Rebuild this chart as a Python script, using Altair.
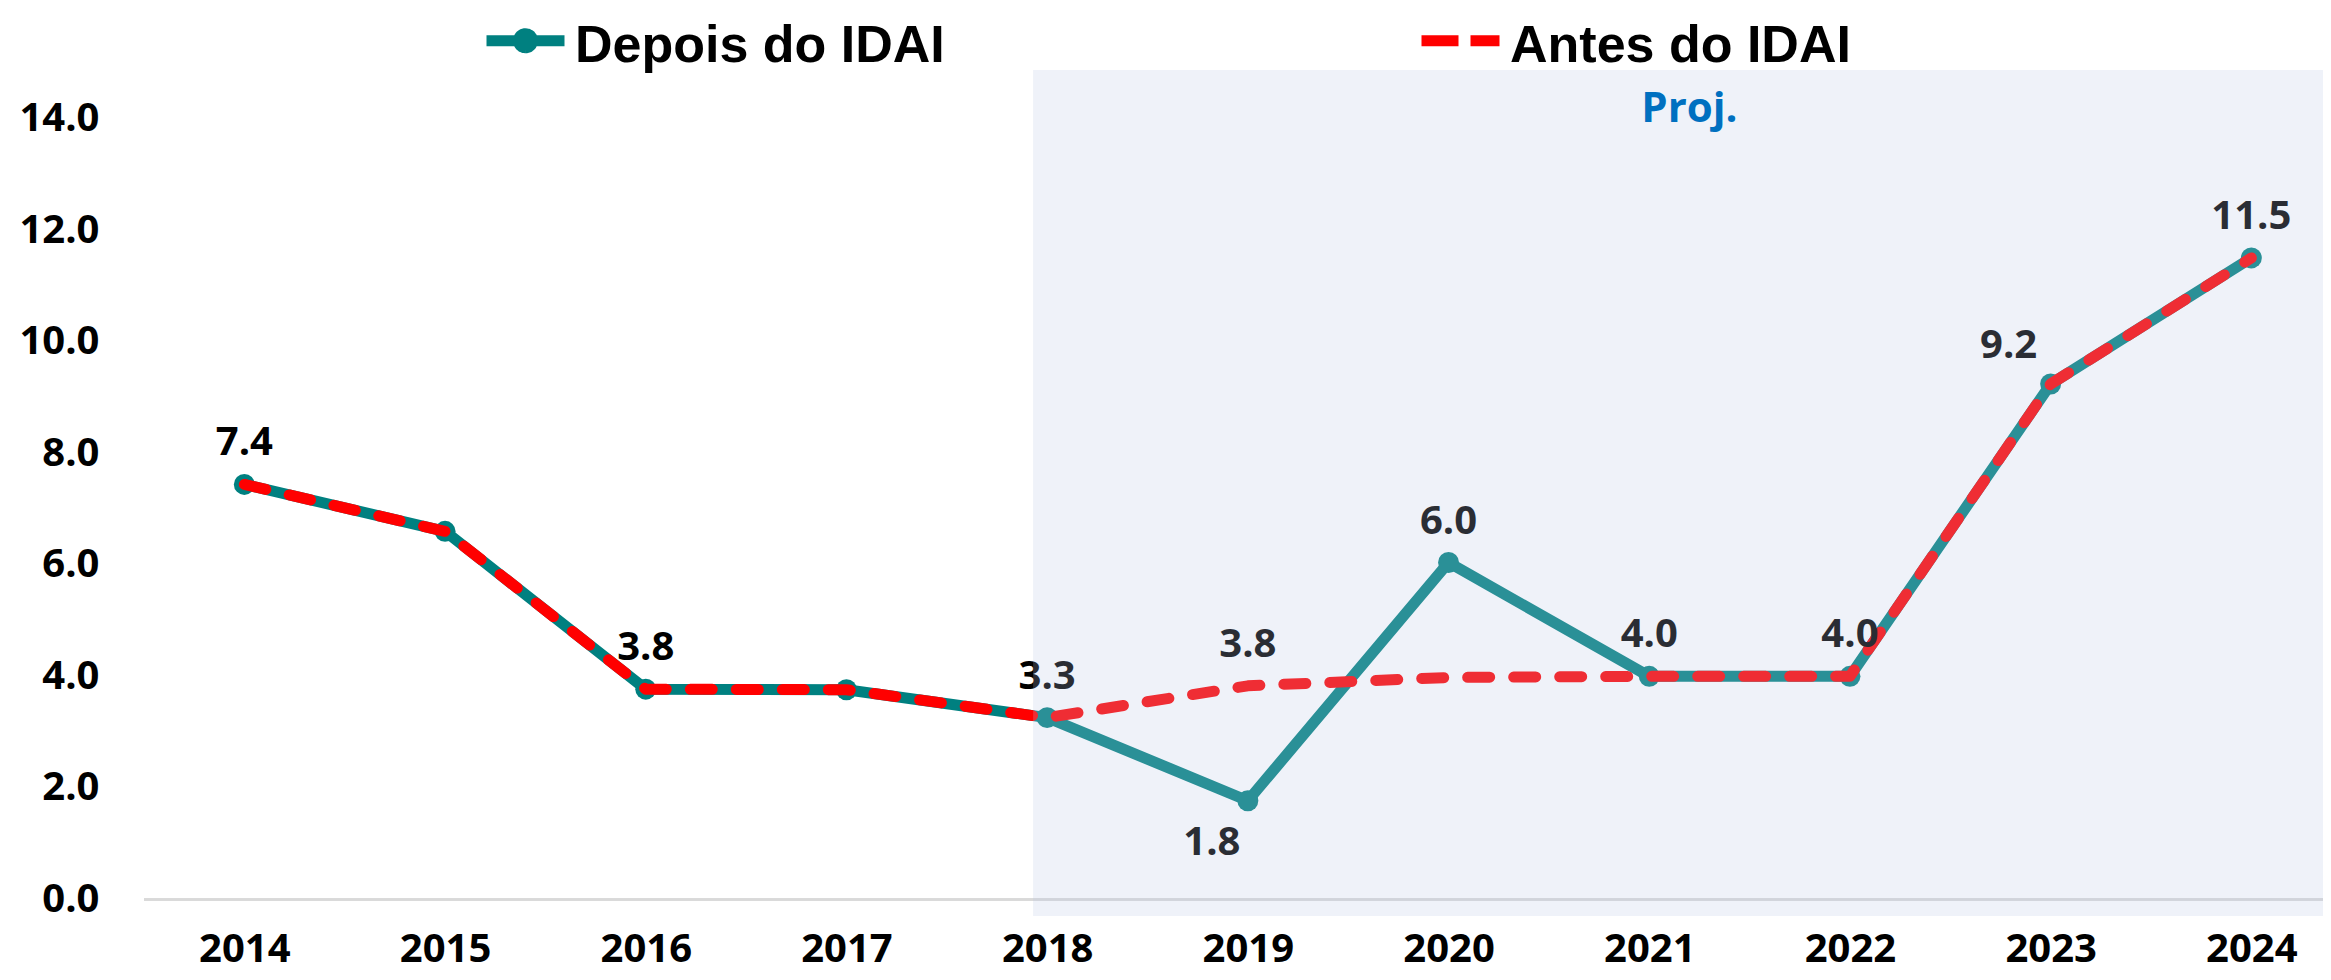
import altair as alt
import pandas as pd

# ---- data ----
years = [2014, 2015, 2016, 2017, 2018, 2019, 2020, 2021, 2022, 2023, 2024]
depois = [7.44, 6.6, 3.77, 3.76, 3.26, 1.77, 6.04, 4.0, 4.0, 9.24, 11.5]
antes = [7.44, 6.6, 3.77, 3.76, 3.26, 3.83, 3.98, 4.0, 4.0, 9.24, 11.5]
series_names = ["Depois do IDAI", "Antes do IDAI"]
y_ticks = [0, 2, 4, 6, 8, 10, 12, 14]
label_years_depois = [2014, 2016, 2018, 2019, 2020, 2021, 2022, 2023, 2024]
label_years_antes = [2019]
proj_start = 2017.93
proj_text = ["Proj."]
proj_x = [2021.2]
proj_y = [13.94]

FONT = "Open Sans"
LEG_FONT = "Liberation Sans"
TEAL = "#008080"
RED = "#FF0000"
SHADE = "rgb(185,198,229)"

df = pd.DataFrame({
    "year": years * 2,
    "value": depois + antes,
    "series": [series_names[0]] * len(years) + [series_names[1]] * len(years),
})
lab = df[((df.series == series_names[0]) & (df.year.isin(label_years_depois))) |
         ((df.series == series_names[1]) & (df.year.isin(label_years_antes)))].copy()
lab["txt"] = lab["value"].map(lambda v: f"{v:.1f}")
proj_df = pd.DataFrame({"t": proj_text, "year": proj_x, "value": proj_y})
leg_df = pd.DataFrame({"series": series_names})

xs = alt.Scale(domain=[2013.5, 2024.357], nice=False, zero=False)
ys = alt.Scale(domain=[-0.296, 14.869], nice=False, zero=False)
x_axis = alt.Axis(values=years, format="d", title=None, grid=False, domain=False,
                  ticks=False, tickSize=0, labelPadding=13, labelFontSize=40,
                  labelFont=FONT, labelFontWeight="bold", labelColor="#000000",
                  labelFlush=False, labelOverlap=False)
y_axis = alt.Axis(values=y_ticks, format=".1f", title=None, grid=False, domain=False,
                  ticks=False, tickSize=0, labelPadding=45, labelFontSize=40,
                  labelFont=FONT, labelFontWeight="bold", labelColor="#000000")

X = alt.X("year:Q", scale=xs, axis=x_axis)
Y = alt.Y("value:Q", scale=ys, axis=y_axis)

base = alt.Chart(df)

zero_rule = alt.Chart(df).mark_rule(color="#D9D9D9", strokeWidth=2).encode(
    y=alt.Y(datum=0, type="quantitative", scale=ys, axis=y_axis),
    x=alt.value(0), x2=alt.value("width"))

teal_line = base.transform_filter(alt.datum.series == series_names[0]).mark_line(
    color=TEAL, strokeWidth=11, strokeJoin="round").encode(x=X, y=Y)
teal_pts = base.transform_filter(alt.datum.series == series_names[0]).mark_circle(
    color=TEAL, size=440, opacity=1).encode(x=X, y=Y)
red_line = base.transform_filter(alt.datum.series == series_names[1]).mark_line(
    color=RED, strokeWidth=11, strokeDash=[22, 24], strokeCap="round",
    strokeJoin="round").encode(x=X, y=Y)

lab_base = alt.Chart(lab)
txt_kw = dict(font=FONT, fontSize=40, fontWeight="bold", color="#000000",
              align="center", baseline="alphabetic")
is_left = "datum.year == 2023"
is_below = "datum.year == 2019 && datum.series == 'Depois do IDAI'"
lab_above = lab_base.transform_filter(f"!({is_left}) && !({is_below})").mark_text(
    dy=-29, **txt_kw).encode(x=X, y=Y, text="txt:N")
lab_left = lab_base.transform_filter(is_left).mark_text(
    dx=-42, dy=-26, **txt_kw).encode(x=X, y=Y, text="txt:N")
lab_below = lab_base.transform_filter(is_below).mark_text(
    dx=-36, dy=54, **txt_kw).encode(x=X, y=Y, text="txt:N")

shade = alt.Chart(proj_df).mark_rect(color=SHADE, opacity=0.227).encode(
    x=alt.X(datum=proj_start, type="quantitative", scale=xs, axis=x_axis),
    x2=alt.value("width"), y=alt.value(0), y2=alt.value("height"))

proj = alt.Chart(proj_df).mark_text(
    font=FONT, fontSize=42, fontWeight="bold", color="#0070C0",
    align="center", baseline="alphabetic").encode(x=X, y=Y, text="t:N")

path_depois = ("M-1,-0.128L1,-0.128M-0.18,-0.128A0.18,0.18,0,1,1,0.18,-0.128"
               "A0.18,0.18,0,1,1,-0.18,-0.128Z")
path_antes = "M-1,-0.128L1,-0.128"
leg = alt.Legend(title=None, orient="none", legendX=337, legendY=-69,
                 direction="horizontal", columnPadding=454, labelOffset=5,
                 labelFontSize=52, labelFont=LEG_FONT, labelFontWeight="bold",
                 labelColor="#000000", symbolSize=6084, symbolStrokeWidth=11,
                 symbolOpacity=1, labelLimit=2000, padding=0)
legend_layer = alt.Chart(leg_df).transform_filter("false").mark_point(
    filled=False, strokeWidth=11, opacity=1).encode(
    color=alt.Color("series:N", scale=alt.Scale(domain=series_names, range=[TEAL, RED]), legend=leg),
    shape=alt.Shape("series:N", scale=alt.Scale(domain=series_names, range=[path_depois, path_antes]), legend=leg),
    strokeDash=alt.StrokeDash("series:N", scale=alt.Scale(domain=series_names, range=[[1, 0], [37, 12]]), legend=leg),
)

chart = alt.layer(
    zero_rule, teal_line, teal_pts, red_line, lab_above, lab_left, lab_below,
    shade, proj, legend_layer
).properties(
    width=2179, height=846,
    padding={"left": 136, "top": 62, "right": 0, "bottom": 56},
    autosize=alt.AutoSizeParams(type="none"),
    background="white",
).configure_view(stroke=None)

chart.save("out.html", embed_options={"renderer": "svg", "actions": False})
